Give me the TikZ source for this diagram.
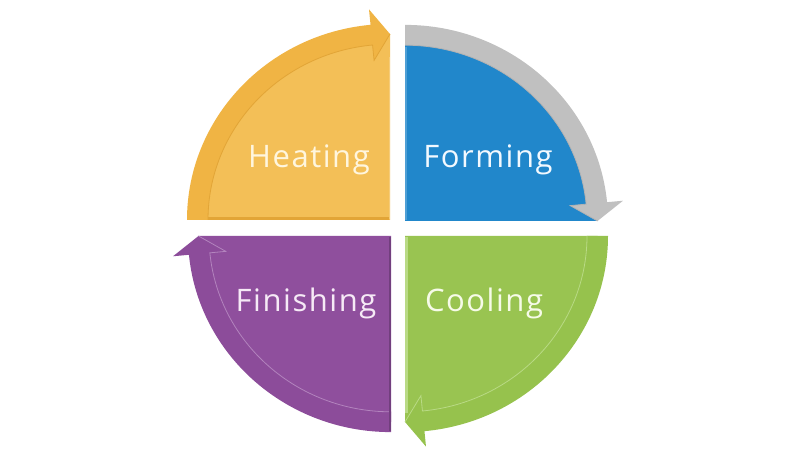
\documentclass[tikz,border=0pt]{standalone}
\usepackage{fontspec}
\setmainfont{Open Sans}
\newfontfamily\lblfont[LetterSpace=5]{Open Sans}
\definecolor{orfill}{HTML}{F3BF57}
\definecolor{orband}{HTML}{F0B444}
\definecolor{orline}{HTML}{E2A537}
\definecolor{blfill}{HTML}{2187CB}
\definecolor{blband}{HTML}{C0C0C0}
\definecolor{blline}{HTML}{B2B2B2}
\definecolor{grfill}{HTML}{99C451}
\definecolor{grband}{HTML}{96C24D}
\definecolor{grline}{HTML}{B9DA85}
\definecolor{pufill}{HTML}{8F4F9D}
\definecolor{puband}{HTML}{8C4C9A}
\definecolor{puline}{HTML}{B384BE}
\definecolor{ortext}{HTML}{FFF6DE}
\definecolor{bltext}{HTML}{F2F9FF}
\definecolor{grtext}{HTML}{F6FBE8}
\definecolor{putext}{HTML}{F6EAF6}
% #1,#2 corner, #3 start angle, #4 fill, #5 band, #6 bevel line
\newcommand\myquad[6]{%
  \begin{scope}[shift={(#1,#2)}, yscale=0.966]
    \fill[#4] (0,0) -- ({#3}:192.5) arc[start angle={#3}, end angle={#3-90}, radius=192.5] -- cycle;
    \fill[#5] ({#3}:203) arc[start angle={#3}, end angle={#3-84.5}, radius=203]
      -- ({#3-84.5}:219) -- ({#3-90}:192.5) -- ({#3-84.5}:166) -- ({#3-84.5}:182)
      arc[start angle={#3-84.5}, end angle={#3}, radius=182] -- cycle;
    \draw[#6, line width=0.8pt] ({#3}:182) arc[start angle={#3}, end angle={#3-84.5}, radius=182]
      -- ({#3-84.5}:166) -- ({#3-90}:192.5);
  \end{scope}}
\tikzset{lbl/.style={anchor=base, font=\lblfont\fontsize{31}{36}\selectfont, inner sep=0pt}}
\begin{document}
\begin{tikzpicture}[x=1pt,y=1pt]
\useasboundingbox (0,0) rectangle (800,457);
\fill[white] (0,0) rectangle (800,457);
\myquad{390}{237}{180}{orfill}{orband}{orline}
\myquad{405}{236}{90}{blfill}{blband}{blline}
\myquad{405}{221}{0}{grfill}{grband}{grline}
\myquad{391}{221}{-90}{pufill}{puband}{puline}
% straight-edge bevels
\draw[orline, line width=2.5pt] (208,238.25) -- (388.75,238.25);
\draw[orfill!80!white, line width=1.5pt] (389.25,238) -- (389.25,400);
\draw[blfill!80!white, line width=1.5pt] (405.75,237) -- (405.75,410);
\draw[grline, line width=2.5pt] (406.25,219.75) -- (406.25,44);
\draw[pufill!80!black, line width=2.5pt] (389.75,219.75) -- (389.75,26);
\node[lbl, text=ortext] (heat) at (309,289) {Heating};
\node[lbl, text=bltext] (form) at (488,289) {Forming};
\node[lbl, text=putext] (fini) at (306,145) {Finishing};
\node[lbl, text=grtext] (cool) at (484,145) {Cooling};
\end{tikzpicture}
\end{document}
